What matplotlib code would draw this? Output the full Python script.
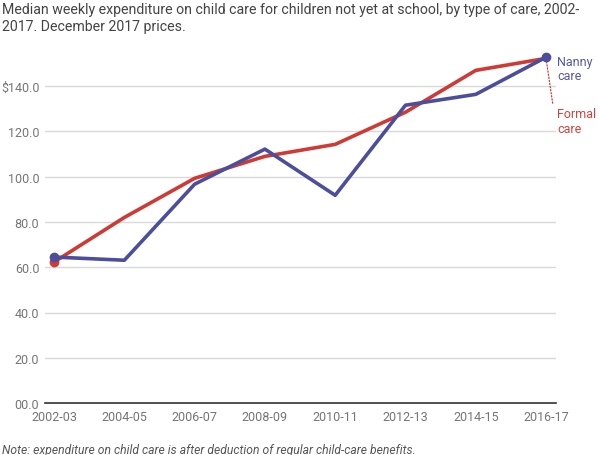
import matplotlib.pyplot as plt

plt.rcParams['font.family'] = ['Roboto', 'DejaVu Sans']

years = ['2002-03', '2004-05', '2006-07', '2008-09', '2010-11', '2012-13', '2014-15', '2016-17']
nanny = [64.5, 63.1, 96.7, 112.2, 91.8, 131.6, 136.4, 152.8]
formal = [62.3, 82.0, 99.3, 109.0, 114.3, 128.5, 147.0, 152.3]
yticks = [0, 20, 40, 60, 80, 100, 120, 140]
ylabels = ['00.0', '20.0', '40.0', '60.0', '80.0', '100.0', '120.0', '$140.0']

red = '#cf3a35'
blue = '#4b4e9c'
x = list(range(len(years)))

fig = plt.figure(figsize=(5.99, 4.56), dpi=100)
ax = fig.add_axes([0.075, 0.114, 0.853, 0.794])

ax.plot(x, formal, color=red, lw=2.6, solid_capstyle='round', zorder=3)
ax.plot(x, nanny, color=blue, lw=2.6, solid_capstyle='round', zorder=4)
ax.plot([x[0]], [formal[0]], 'o', color=red, ms=6, zorder=3)
ax.plot([x[0], x[-1]], [nanny[0], nanny[-1]], 'o', color=blue, ms=6, zorder=5)

# leader line to the formal care label
ax.annotate('', xy=(x[-1], formal[-1]), xytext=(x[-1] + 0.1, formal[-1] - 21),
            arrowprops=dict(arrowstyle='-', color=red, lw=0.9, ls=(0, (1, 1.5))),
            annotation_clip=False)
ax.text(x[-1] + 0.16, nanny[-1] + 1, 'Nanny\ncare', color='#5558a8', fontsize=9,
        va='top', ha='left', linespacing=1.15)
ax.text(x[-1] + 0.16, formal[-1] - 21.5, 'Formal\ncare', color='#d0433d', fontsize=9,
        va='top', ha='left', linespacing=1.15)

ax.set_xlim(-0.13, 7.14)
ax.set_ylim(0, 160)
ax.set_xticks(x)
ax.set_xticklabels(years)
ax.set_yticks(yticks)
ax.set_yticklabels(ylabels)
ax.tick_params(length=0, labelsize=9, labelcolor='#757575')
ax.tick_params(axis='x', pad=5)
ax.tick_params(axis='y', pad=4)
ax.grid(axis='y', color='#d9d9d9', lw=1)
for s in ['top', 'right', 'left']:
    ax.spines[s].set_visible(False)
ax.spines['bottom'].set_color('#333333')
ax.spines['bottom'].set_linewidth(1.2)
ax.set_axisbelow(True)

fig.text(0.003, 0.993, 'Median weekly expenditure on child care for children not yet at school, by type of care, 2002-\n2017. December 2017 prices.',
         fontsize=10.2, color='#444444', va='top', ha='left', linespacing=1.25)
fig.text(0.003, -0.002, 'Note: expenditure on child care is after deduction of regular child-care benefits.',
         fontsize=8.7, color='#555555', style='italic', va='bottom', ha='left')

fig.savefig('out.png', dpi=100)
